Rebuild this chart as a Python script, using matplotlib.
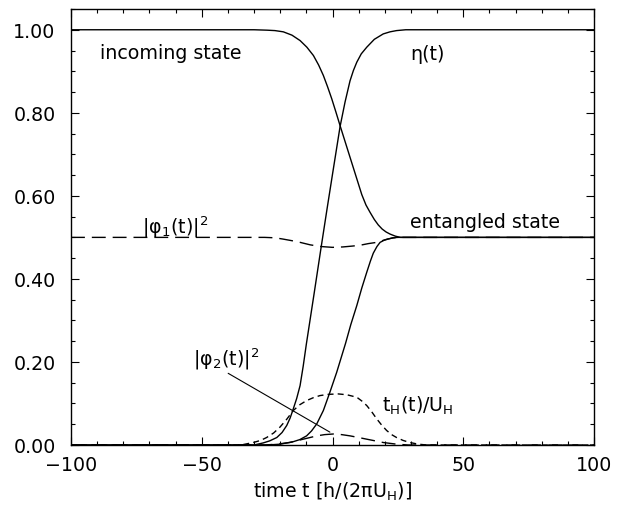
import matplotlib
matplotlib.use("Agg")
import matplotlib.pyplot as plt
from matplotlib.ticker import MultipleLocator, FormatStrFormatter

plt.rcParams['font.family'] = ['DejaVu Sans']
plt.rcParams['mathtext.fontset'] = 'dejavusans'
plt.rcParams['font.size'] = 13.7

# ---- data ----
incoming_t = [-100, -30, -25, -22, -18.8, -15.5, -12.4, -9.8, -7.3, -5.3, -3.5, -1.9, -0.3, 1.3, 2.9,
              5.1, 7.3, 9.3, 11.2, 12.8, 14.3, 16, 17.5, 19, 20.5, 22, 24, 26, 100]
incoming_y = [1.0, 1.0, 0.999, 0.998, 0.995, 0.987, 0.974, 0.958, 0.938, 0.915, 0.890, 0.863, 0.834, 0.802, 0.769,
              0.725, 0.681, 0.641, 0.603, 0.578, 0.561, 0.543, 0.530, 0.520, 0.513, 0.508, 0.503, 0.5, 0.5]

eta_t = [-100, -30, -26.5, -24, -21.3, -19.3, -17.5, -16.2, -15, -13.7, -12.4, -11.2, -10, -7, -4.5, -2, 0, 2.9,
         4.8, 6.7, 8, 9.3, 11, 13.1, 16, 19.4, 22, 24.5, 28, 100]
eta_y = [0, 0, 0.005, 0.01, 0.018, 0.03, 0.047, 0.065, 0.087, 0.112, 0.143, 0.19, 0.243, 0.366, 0.470, 0.572, 0.652, 0.767,
         0.826, 0.877, 0.902, 0.922, 0.942, 0.958, 0.977, 0.990, 0.995, 0.998, 1.0, 1.0]

entangled_t = [-100, -25, -20, -15, -12.5, -9.9, -8, -6, -3.5, -1, 1.6, 5, 7, 9.3, 11.2, 13.1, 14.5, 15.6, 17,
               18.2, 19.7, 21.3, 23, 25, 100]
entangled_y = [0, 0, 0.002, 0.008, 0.013, 0.022, 0.034, 0.051, 0.083, 0.127, 0.175, 0.245, 0.29, 0.336, 0.378,
               0.416, 0.443, 0.462, 0.478, 0.488, 0.493, 0.496, 0.499, 0.5, 0.5]

phi1_t = [-100, -26, -22, -19, -15.5, -12.4, -8.5, -4.5, 0, 4, 7.5, 10.5, 13.7, 16.9, 19, 21, 23.5, 26, 100]
phi1_y = [0.5, 0.5, 0.499, 0.496, 0.492, 0.488, 0.482, 0.478, 0.476, 0.477, 0.479, 0.481, 0.485, 0.488, 0.492,
          0.496, 0.499, 0.5, 0.5]

tH_t = [-100, -35, -30.3, -27.5, -25.2, -22.5, -20.1, -17.5, -15, -12.5, -9.9, -7.3, -4.8, -1.5, 2.2, 5.5, 9.3,
        11.2, 13.1, 15, 16.9, 18.8, 20.7, 22.6, 24.5, 27, 29.6, 32.8, 36, 100]
tH_y = [0, 0, 0.006, 0.011, 0.018, 0.029, 0.043, 0.062, 0.083, 0.097, 0.107, 0.114, 0.119, 0.122, 0.123, 0.121,
        0.115, 0.106, 0.095, 0.080, 0.063, 0.048, 0.035, 0.025, 0.018, 0.011, 0.006, 0.002, 0, 0]

phi2_t = [-100, -26, -21.3, -16.3, -11.2, -6, -3, 0.3, 3.5, 6.7, 10, 13.1, 16.3, 19.4, 24.5, 29, 100]
phi2_y = [0, 0, 0.002, 0.006, 0.014, 0.022, 0.025, 0.0265, 0.025, 0.022, 0.018, 0.014, 0.01, 0.006, 0.002, 0, 0]

y_ticks = [0.0, 0.2, 0.4, 0.6, 0.8, 1.0]
x_ticks = [-100, -50, 0, 50, 100]

# ---- figure ----
fig = plt.figure(figsize=(6.28, 5.06), dpi=100)
ax = fig.add_axes([71 / 628, 60 / 506, 523 / 628, 436 / 506])

lw = 1.0
ax.plot(incoming_t, incoming_y, color='black', lw=lw)
ax.plot(eta_t, eta_y, color='black', lw=lw)
ax.plot(entangled_t, entangled_y, color='black', lw=lw)
ax.plot(phi1_t, phi1_y, color='black', lw=lw, dashes=(10, 5))
ax.plot(phi2_t, phi2_y, color='black', lw=lw, dashes=(10, 5))
ax.plot(tH_t, tH_y, color='black', lw=lw, dashes=(4.3, 3))

ax.set_xlim(-100, 100)
ax.set_ylim(0, 1.05)
ax.set_xticks(x_ticks)
ax.set_yticks(y_ticks)
ax.xaxis.set_minor_locator(MultipleLocator(10))
ax.yaxis.set_minor_locator(MultipleLocator(0.05))
ax.yaxis.set_major_formatter(FormatStrFormatter('%.2f'))
ax.tick_params(which='both', direction='in', top=True, right=True, width=0.8)
ax.tick_params(which='major', length=6)
ax.tick_params(which='minor', length=3)
ax.tick_params(axis='y', which='major', pad=11)
ax.tick_params(axis='x', which='major', pad=7)
for s in ax.spines.values():
    s.set_linewidth(1.0)

ax.set_xlabel(r'time t [h/(2πU$_\mathregular{H}$)]', labelpad=4)

ax.text(-88.9, 0.932, 'incoming state', ha='left', va='baseline')
ax.text(29.6, 0.930, 'η(t)', ha='left', va='baseline')
ax.text(29.6, 0.5245, 'entangled state', ha='left', va='baseline')
ax.text(-72.8, 0.5125, r'$\mathregular{|φ_1(t)|^2}$', ha='left', va='baseline')
ax.text(18.8, 0.083, r'$\mathregular{t_H(t)/U_H}$', ha='left', va='baseline')
ax.annotate(r'$\mathregular{|φ_2(t)|^2}$', xy=(-1, 0.031), xytext=(-53.2, 0.195),
            ha='left', va='baseline',
            arrowprops=dict(arrowstyle='-', color='black', lw=0.8, shrinkA=0, shrinkB=0,
                            relpos=(0.42, 0.05)))

fig.savefig('out.png', dpi=100)
